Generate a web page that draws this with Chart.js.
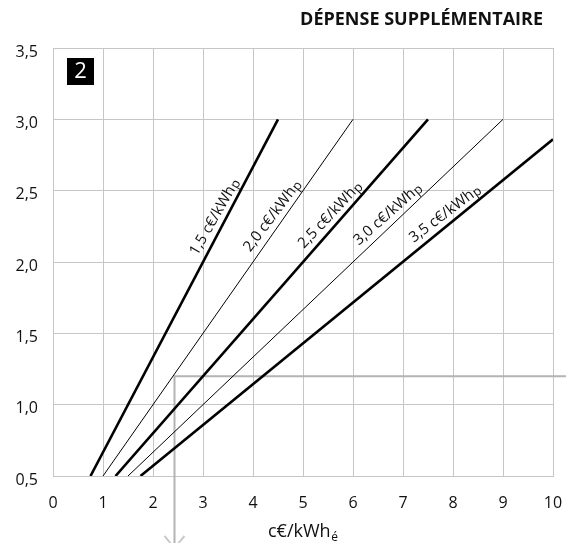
<!DOCTYPE html>
<html><head><meta charset="utf-8">
<script src="https://cdn.jsdelivr.net/npm/chart.js@4/dist/chart.umd.min.js"></script>
<style>html,body{margin:0;padding:0;background:#fff}#wrap{width:566px;height:543px;position:relative}</style>
</head><body><div id="wrap"><canvas id="c" width="566" height="543"></canvas></div>
<script>
// ---- data ----
const rateLabels = ["1,5", "2,0", "2,5", "3,0", "3,5"];
const lineStartX = [0.75, 1.0, 1.25, 1.5, 1.75];
const lineStartY = [0.5, 0.5, 0.5, 0.5, 0.5];
const lineEndX = [4.5, 6.0, 7.5, 9.0, 10.0];
const lineEndY = [3.0, 3.0, 3.0, 3.0, 2.86];
const xTickLabels = ["0","1","2","3","4","5","6","7","8","9","10"];
const yTickLabels = ["0,5","1,0","1,5","2,0","2,5","3,0","3,5"];
const guideX = 2.43;
const guideY = 1.2;
const panelNumber = "2";
const titleText = "DÉPENSE SUPPLÉMENTAIRE";
const xAxisTitle = "c€/kWh";
const xAxisSub = "é";
const unitText = "c€/kWh";
const unitSub = "p";

const FONT = '"Open Sans", "DejaVu Sans", sans-serif';
const GRID = '#c6c6c6';
const lineWidths = [2.6, 1, 2.6, 1, 2.6];

const datasets = rateLabels.map((r, i) => ({
  label: r,
  data: [{x: lineStartX[i], y: lineStartY[i]}, {x: lineEndX[i], y: lineEndY[i]}],
  showLine: true,
  borderColor: '#000',
  borderWidth: lineWidths[i],
  pointRadius: 0,
  fill: false
}));

const deco = {
  id: 'deco',
  beforeDatasetsDraw(chart) {
    const {ctx, scales: {x, y}} = chart;
    const px = x.getPixelForValue(guideX), py = y.getPixelForValue(guideY);
    ctx.save();
    ctx.strokeStyle = '#b4b4b4';
    ctx.lineWidth = 2;
    ctx.beginPath();
    ctx.moveTo(chart.width, py);
    ctx.lineTo(px, py);
    ctx.lineTo(px, chart.height);
    ctx.stroke();
    ctx.strokeStyle = '#cbcbcb';
    ctx.beginPath();
    ctx.moveTo(px - 10, chart.height - 7);
    ctx.lineTo(px, chart.height + 5);
    ctx.lineTo(px + 10, chart.height - 7);
    ctx.stroke();
    ctx.restore();
  },
  afterDatasetsDraw(chart) {
    const {ctx, chartArea, scales: {x, y}} = chart;
    ctx.save();
    // line labels
    rateLabels.forEach((r, i) => {
      const x0 = x.getPixelForValue(lineStartX[i]), y0 = y.getPixelForValue(lineStartY[i]);
      const x1 = x.getPixelForValue(lineEndX[i]), y1 = y.getPixelForValue(lineEndY[i]);
      const a = Math.atan2(y1 - y0, x1 - x0);
      const ly = 2.28;
      const lx = lineStartX[i] + (ly - lineStartY[i]) * (lineEndX[i] - lineStartX[i]) / (lineEndY[i] - lineStartY[i]);
      let cx = x.getPixelForValue(lx), cy = y.getPixelForValue(ly);
      const d = 10.5;
      cx += Math.sin(a) * d; cy += -Math.cos(a) * d;
      ctx.save();
      ctx.translate(cx, cy);
      ctx.rotate(a + 0.035);
      ctx.fillStyle = '#111';
      ctx.textBaseline = 'middle';
      ctx.font = '15px ' + FONT;
      const main = r + ' ' + unitText;
      const w1 = ctx.measureText(main).width;
      ctx.font = '13px ' + FONT;
      const w2 = ctx.measureText(unitSub).width;
      const start = -(w1 + w2) / 2;
      ctx.font = '15px ' + FONT;
      ctx.textAlign = 'left';
      ctx.fillText(main, start, 0);
      ctx.font = '13px ' + FONT;
      ctx.fillText(unitSub, start + w1 + 0.5, 2);
      ctx.restore();
    });
    // panel number box
    const bx = chartArea.left + 14, by = chartArea.top + 10;
    ctx.fillStyle = '#000';
    ctx.fillRect(bx, by, 27, 27);
    ctx.fillStyle = '#fff';
    ctx.font = '22px ' + FONT;
    ctx.textAlign = 'center';
    ctx.textBaseline = 'middle';
    ctx.fillText(panelNumber, bx + 13.5, by + 14);
    // title
    ctx.fillStyle = '#111';
    ctx.font = 'bold 18px ' + FONT;
    ctx.textAlign = 'right';
    ctx.textBaseline = 'alphabetic';
    ctx.fillText(titleText, 543, 25);
    // x axis title with subscript
    ctx.font = '18px ' + FONT;
    ctx.textAlign = 'left';
    const tw = ctx.measureText(xAxisTitle).width;
    ctx.fillText(xAxisTitle, 268, 537);
    ctx.font = '12px ' + FONT;
    ctx.fillText(xAxisSub, 268 + tw + 0.5, 541);
    ctx.restore();
  }
};

new Chart(document.getElementById('c'), {
  type: 'scatter',
  data: { datasets },
  options: {
    responsive: false,
    devicePixelRatio: 1,
    animation: false,
    layout: { padding: { left: 0, right: 13, top: 48, bottom: 0 } },
    plugins: { legend: { display: false }, tooltip: { enabled: false }, title: { display: false } },
    scales: {
      x: {
        type: 'linear', min: 0, max: 10,
        afterFit(s) { s.height = 67; s.paddingLeft = 0; s.paddingRight = 0; },
        ticks: {
          stepSize: 1, padding: 18, color: '#111',
          font: { family: FONT, size: 16 },
          maxRotation: 0,
          callback: (v, idx) => xTickLabels[idx]
        },
        grid: { color: GRID, lineWidth: 1, drawTicks: false },
        border: { color: GRID, width: 1 }
      },
      y: {
        type: 'linear', min: 0.5, max: 3.5,
        afterFit(s) { s.width = 53; s.paddingTop = 0; s.paddingBottom = 0; },
        ticks: {
          stepSize: 0.5, padding: 15, color: '#111', labelOffset: 4,
          font: { family: FONT, size: 16 },
          callback: (v, idx) => yTickLabels[idx]
        },
        grid: { color: GRID, lineWidth: 1, drawTicks: false },
        border: { color: GRID, width: 1 }
      }
    }
  },
  plugins: [deco]
});
</script>
</body></html>
